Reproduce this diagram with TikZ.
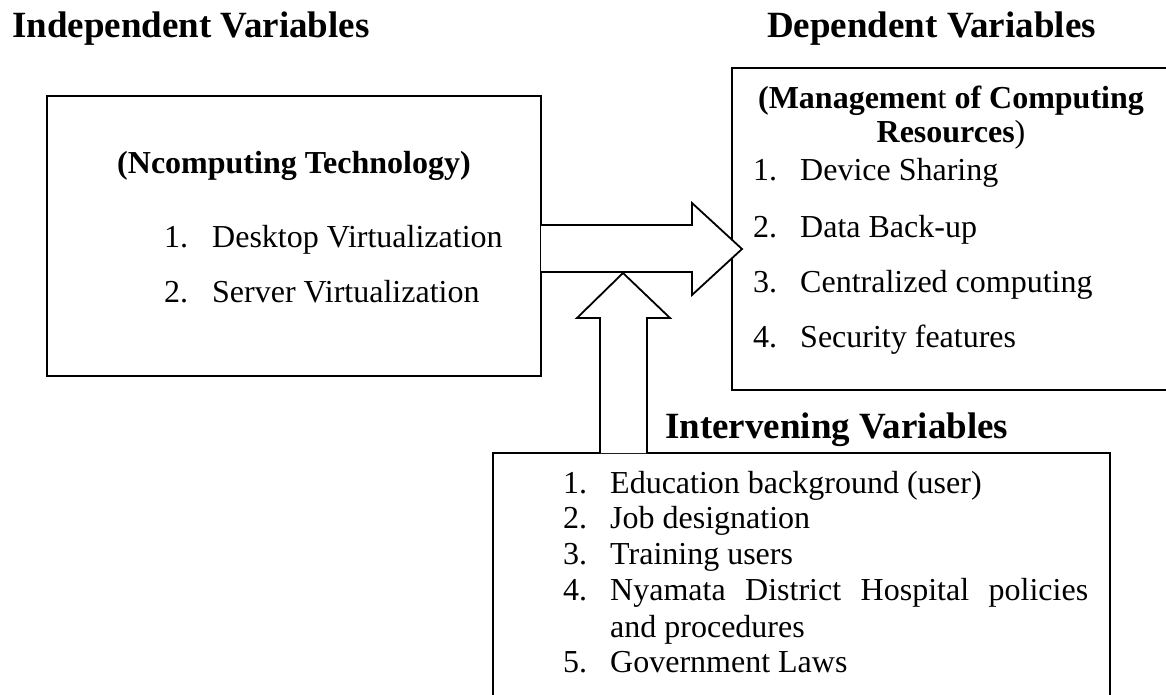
\documentclass[tikz,border=0pt]{standalone}
\usepackage{fontspec}
\setmainfont{Liberation Serif}
\begin{document}
\begin{tikzpicture}[x=1pt,y=-1pt]
\tikzset{
  box/.style={draw, line width=1.8pt, inner sep=0, outer sep=0, anchor=north west},
  blk/.style={draw, fill=white, line width=1.8pt, line join=miter},
  headtxt/.style={font=\fontsize{37}{40}\selectfont\bfseries, inner sep=0},
  subtxt/.style={font=\fontsize{32}{36}\selectfont\bfseries, inner sep=0, anchor=base},
  txt/.style={font=\fontsize{32}{36}\selectfont, inner sep=0, anchor=base west},
}
\useasboundingbox (0,0) rectangle (1166,695);
\clip (0,0) rectangle (1166,695);

% headings
\node[headtxt, anchor=base west] (indT) at (12,38) {Independent Variables};
\node[headtxt, anchor=base east] (depT) at (1096,38) {Dependent Variables};

% boxes
\node[box, minimum width=494pt, minimum height=280pt] (ind) at (47,96) {};
\node[box, minimum width=480pt, minimum height=322pt] (dep) at (732,68) {};
\node[box, minimum width=617pt, minimum height=300pt] (intv) at (493,453) {};

\node[headtxt, anchor=base west] (intT) at (665,438) {Intervening Variables};

% left box text
\node[subtxt] (indS) at (294,174) {(Ncomputing Technology)};
\node[txt] (i1n) at (164,247) {1.};
\node[txt] (i1) at (212,247) {Desktop Virtualization};
\node[txt] (i2n) at (164,302) {2.};
\node[txt] (i2) at (212,302) {Server Virtualization};

% right box text
\node[subtxt] (depS1) at (951,109) {(Managemen{\mdseries t} of Computing};
\node[subtxt] (depS2) at (951,143) {Resources{\mdseries )}};
\node[txt] (d1n) at (753,181) {1.};
\node[txt] (d1) at (800,181) {Device Sharing};
\node[txt] (d2n) at (753,237) {2.};
\node[txt] (d2) at (800,237) {Data Back-up};
\node[txt] (d3n) at (753,292) {3.};
\node[txt] (d3) at (800,292) {Centralized computing};
\node[txt] (d4n) at (753,347) {4.};
\node[txt] (d4) at (800,347) {Security features};

% intervening box text
\node[txt] (v1n) at (563,493) {1.};
\node[txt] (v1) at (610,493) {Education background (user)};
\node[txt] (v2n) at (563,528) {2.};
\node[txt] (v2) at (610,528) {Job designation};
\node[txt] (v3n) at (563,564) {3.};
\node[txt] (v3) at (610,564) {Training users};
\node[txt] (v4n) at (563,600) {4.};
\node[txt] (v4) at (610,600) {\makebox[478pt][s]{Nyamata District Hospital policies}};
\node[txt] (v4b) at (610,637) {and procedures};
\node[txt] (v5n) at (563,672) {5.};
\node[txt] (v5) at (610,672) {Government Laws};

% block arrows
\coordinate (hTip) at (742,249);
\coordinate (vTip) at (623,273);
\draw[blk] (ind.east |- 0,225) -- (692,225) -- (692,203) -- (hTip)
  -- (692,295) -- (692,272) -- (ind.east |- 0,272);
\draw[blk] (600,0 |- intv.north) -- (600,318) -- (577,318) -- (vTip)
  -- (670,318) -- (647,318) -- (647,0 |- intv.north);
\end{tikzpicture}
\end{document}
